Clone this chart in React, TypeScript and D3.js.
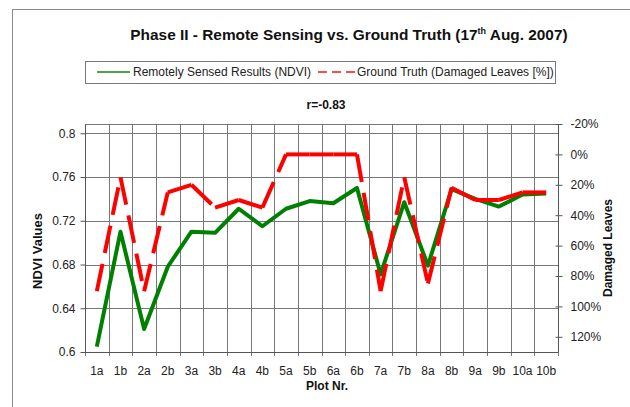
import React, { useRef, useEffect } from "react";
import * as d3 from "d3";

// plot labels along the x axis
const plots = ["1a", "1b", "2a", "2b", "3a", "3b", "4a", "4b", "5a", "5b",
    "6a", "6b", "7a", "7b", "8a", "8b", "9a", "9b", "10a", "10b"];
// NDVI (left axis)
const ndvi = [0.605, 0.71, 0.621, 0.678, 0.71, 0.709, 0.731, 0.715, 0.731, 0.738,
    0.736, 0.75, 0.671, 0.737, 0.679, 0.749, 0.74, 0.733, 0.744, 0.745];
// damaged leaves in % (right axis, reversed)
const damaged = [90, 15, 90, 25, 20, 35, 30, 35, 0, 0,
    0, 0, 90, 15, 85, 22, 30, 30, 25, 25];
const leftTicks = [0.6, 0.64, 0.68, 0.72, 0.76, 0.8];
const rightTicks = [-20, 0, 20, 40, 60, 80, 100, 120];

const FONT = "'Liberation Sans', Arial, sans-serif";
const GREEN = "#008000", RED = "#ff0000", GRID = "#777";

function Chart() {
    const svgRef = useRef(null);
    useEffect(() => {
        const width = 630, height = 407;
        const left = 85, right = 558, top = 124, bottom = 352;

        const svg = d3.select(svgRef.current)
            .append("svg")
            .attr("width", width)
            .attr("height", height)
            .style("font-family", FONT)
            .style("display", "block");

        svg.append("rect").attr("width", width).attr("height", height).attr("fill", "#fff");
        // outer chart border (runs off the picture right/bottom)
        svg.append("rect")
            .attr("x", 12.5).attr("y", 9.5)
            .attr("width", width).attr("height", height)
            .attr("fill", "none").attr("stroke", "#8a8a8a");

        const x = d3.scaleBand().domain(plots).range([left, right]).padding(0);
        const yL = d3.scaleLinear().domain([0.6, 0.8085]).range([bottom, top]);
        const yR = d3.scaleLinear().domain([-20, 130]).range([top, bottom]);
        const cx = (d) => x(d) + x.bandwidth() / 2;

        // gridlines
        const g = svg.append("g");
        g.selectAll("line.h").data(leftTicks).enter().append("line")
            .attr("x1", left).attr("x2", right)
            .attr("y1", (d) => Math.round(yL(d)) + 0.5).attr("y2", (d) => Math.round(yL(d)) + 0.5)
            .attr("stroke", GRID);
        g.selectAll("line.v").data(d3.range(plots.length + 1)).enter().append("line")
            .attr("x1", (i) => Math.round(left + i * x.step()) + 0.5)
            .attr("x2", (i) => Math.round(left + i * x.step()) + 0.5)
            .attr("y1", top).attr("y2", bottom + 4)
            .attr("stroke", GRID);
        g.append("line").attr("x1", left).attr("x2", right)
            .attr("y1", top + 0.5).attr("y2", top + 0.5).attr("stroke", GRID);

        // left axis
        const axL = svg.append("g").attr("transform", `translate(${left + 0.5},0)`)
            .call(d3.axisLeft(yL).tickValues(leftTicks).tickSize(5).tickPadding(5)
                .tickFormat((d) => String(+d.toFixed(2))));
        axL.select(".domain").remove();
        axL.append("line").attr("y1", top).attr("y2", bottom).attr("stroke", "#555");
        axL.selectAll(".tick line").attr("stroke", "#555");
        axL.selectAll("text").attr("font-size", 12).attr("font-family", FONT).attr("fill", "#222");

        // right axis
        const axR = svg.append("g").attr("transform", `translate(${right + 0.5},0)`)
            .call(d3.axisRight(yR).tickValues(rightTicks).tickSize(4).tickPadding(8)
                .tickFormat((d) => d + "%"));
        axR.select(".domain").remove();
        axR.append("line").attr("y1", top).attr("y2", bottom).attr("stroke", "#555");
        axR.selectAll(".tick line").attr("x1", -3).attr("stroke", "#555");
        axR.selectAll("text").attr("font-size", 12).attr("font-family", FONT).attr("fill", "#222");

        // bottom axis
        svg.append("line").attr("x1", left).attr("x2", right)
            .attr("y1", bottom + 0.5).attr("y2", bottom + 0.5).attr("stroke", "#555");
        svg.selectAll("text.xl").data(plots).enter().append("text")
            .attr("x", cx).attr("y", 375)
            .attr("text-anchor", "middle").attr("font-size", 12).attr("fill", "#222")
            .text((d) => d);

        // NDVI line
        const lineL = d3.line().x((d, i) => cx(plots[i])).y((d) => yL(d));
        svg.append("path").attr("d", lineL(ndvi))
            .attr("fill", "none").attr("stroke", GREEN).attr("stroke-width", 4)
            .attr("stroke-linejoin", "round");

        // damaged leaves, dash pattern restarts at every point (Excel style)
        const lineR = d3.line().x((d) => cx(d.p)).y((d) => yR(d.v));
        const pts = damaged.map((v, i) => ({ p: plots[i], v }));
        svg.selectAll("path.seg").data(d3.pairs(pts)).enter().append("path")
            .attr("d", (d) => lineR(d))
            .attr("fill", "none").attr("stroke", RED).attr("stroke-width", 4)
            .attr("stroke-dasharray", "28 11");

        // titles
        const title = svg.append("text").attr("x", 349).attr("y", 39.5)
            .attr("text-anchor", "middle").attr("font-size", 15.4).attr("font-weight", "bold").attr("fill", "#111");
        title.append("tspan").text("Phase II - Remote Sensing vs. Ground Truth (17");
        title.append("tspan").attr("font-size", 9).attr("dy", -6).text("th");
        title.append("tspan").attr("dy", 6).text(" Aug. 2007)");

        svg.append("text").attr("x", 326).attr("y", 109)
            .attr("text-anchor", "middle").attr("font-size", 12).attr("font-weight", "bold").attr("fill", "#111")
            .text("r=-0.83");
        svg.append("text").attr("x", 327).attr("y", 390)
            .attr("text-anchor", "middle").attr("font-size", 12).attr("font-weight", "bold").attr("fill", "#111")
            .text("Plot Nr.");
        svg.append("text").attr("transform", "translate(42,251) rotate(-90)")
            .attr("text-anchor", "middle").attr("font-size", 13).attr("font-weight", "bold").attr("fill", "#111")
            .text("NDVI Values");
        svg.append("text").attr("transform", "translate(612,248) rotate(-90)")
            .attr("text-anchor", "middle").attr("font-size", 12).attr("font-weight", "bold").attr("fill", "#111")
            .text("Damaged Leaves");

        // legend
        const lg = svg.append("g");
        lg.append("rect").attr("x", 85.5).attr("y", 61.5).attr("width", 470).attr("height", 22)
            .attr("fill", "#fff").attr("stroke", "#777");
        lg.append("line").attr("x1", 97).attr("x2", 130).attr("y1", 72).attr("y2", 72)
            .attr("stroke", GREEN).attr("stroke-width", 2).attr("opacity", 0.7);
        lg.append("text").attr("x", 133).attr("y", 76).attr("font-size", 12).attr("fill", "#222")
            .text("Remotely Sensed Results (NDVI)");
        lg.append("line").attr("x1", 318).attr("x2", 355).attr("y1", 72).attr("y2", 72)
            .attr("stroke", RED).attr("stroke-width", 2).attr("opacity", 0.7)
            .attr("stroke-dasharray", "9 5");
        lg.append("text").attr("x", 357).attr("y", 76).attr("font-size", 12).attr("fill", "#222")
            .text("Ground Truth (Damaged Leaves [%])");

        return () => {
            d3.select(svgRef.current).selectAll("*").remove();
        };
    }, []);
    return <div ref={svgRef} style={{ position: "absolute", left: 0, top: 0 }}></div>;
}

export default function App() {
    return <Chart />;
}
